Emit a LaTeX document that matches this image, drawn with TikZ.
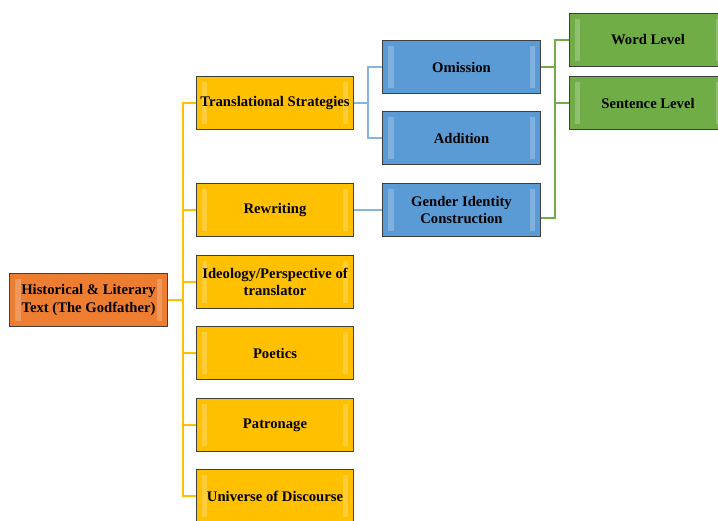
\documentclass[tikz,border=0pt]{standalone}
\usepackage{fontspec}
\setmainfont{Liberation Serif}

\definecolor{rootorange}{HTML}{ED7D31}
\definecolor{stratyellow}{HTML}{FFC000}
\definecolor{techblue}{HTML}{5B9BD5}
\definecolor{levelgreen}{HTML}{70AD47}
\definecolor{boxedge}{HTML}{3F3F3F}

\begin{document}
\begin{tikzpicture}[x=0.75pt,y=-0.75pt,
  box/.style={draw=boxedge, line width=0.9pt, minimum width=118pt, minimum height=39.5pt,
    inner sep=2pt, align=center, font=\fontsize{11}{13}\selectfont\bfseries,
    path picture={
      \fill[white,opacity=0.22] ([xshift=4pt,yshift=-4pt]path picture bounding box.north west)
        rectangle ([xshift=8pt,yshift=4pt]path picture bounding box.south west);
      \fill[white,opacity=0.22] ([xshift=-4pt,yshift=-4pt]path picture bounding box.north east)
        rectangle ([xshift=-8pt,yshift=4pt]path picture bounding box.south east);
    }},
  yline/.style={stratyellow, line width=1.5pt},
  bline/.style={techblue!75, line width=1.5pt},
  gline/.style={levelgreen, line width=1.5pt}]

\useasboundingbox (0,0) rectangle (718,521);

% root and the six yellow branches
\node[box, fill=rootorange] (root) at (88.5,300) {Historical \& Literary\\Text (The Godfather)};
\node[box, fill=stratyellow] (ts) at (275,103) {Translational Strategies};
\node[box, fill=stratyellow] (rw) at (275,210) {Rewriting};
\node[box, fill=stratyellow] (id) at (275,282) {Ideology/Perspective of\\translator};
\node[box, fill=stratyellow] (po) at (275,353) {Poetics};
\node[box, fill=stratyellow] (pa) at (275,425) {Patronage};
\node[box, fill=stratyellow] (ud) at (275,496) {Universe of Discourse};

% blue and green levels
\node[box, fill=techblue] (om) at (461.5,67) {Omission};
\node[box, fill=techblue] (ad) at (461.5,138) {Addition};
\node[box, fill=techblue] (gi) at (461.5,210) {Gender Identity\\Construction};
\node[box, fill=levelgreen] (wl) at (648,40) {Word Level};
\node[box, fill=levelgreen] (sl) at (648,103) {Sentence Level};

\coordinate (yfork) at (183,300);
\draw[yline] (root.east) -- (yfork);
\foreach \n in {ts,rw,id,po,pa,ud}
  \draw[yline] (yfork) |- (\n.west);

\coordinate (bfork) at (368,103);
\draw[bline] (ts.east) -- (bfork);
\draw[bline] (bfork) |- (om.west);
\draw[bline] (bfork) |- (ad.west);
\draw[bline] (rw.east) -- (gi.west);

\coordinate (gfork) at (555,67);
\draw[gline] (om.east) -- (gfork);
\draw[gline] (gfork) |- (wl.west);
\draw[gline] (gfork) |- (sl.west);
\draw[gline] ([yshift=-6pt]gi.east) -| (gfork);
\end{tikzpicture}
\end{document}
